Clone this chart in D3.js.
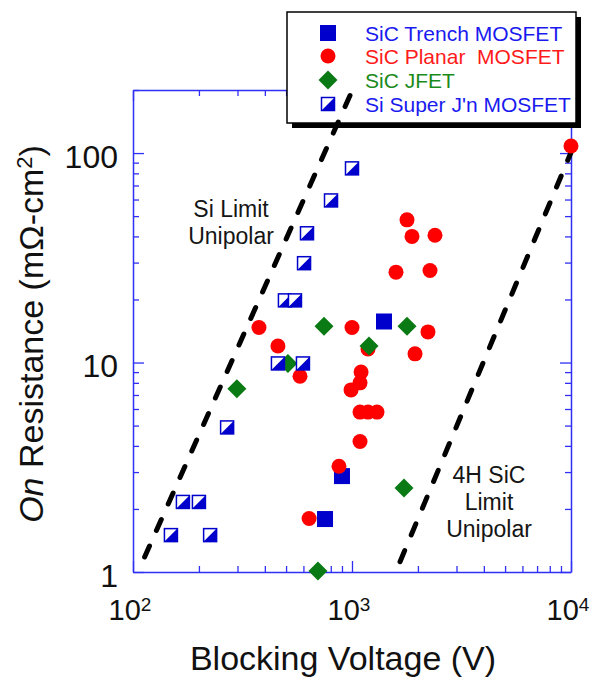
<!DOCTYPE html>
<html lang="en">
<head>
<meta charset="utf-8">
<title>On Resistance vs Blocking Voltage</title>
<script src="https://cdnjs.cloudflare.com/ajax/libs/d3/7.7.0/d3.min.js"></script>
<style>
  body { margin: 0; background: #fff; }
  text { font-family: "Liberation Sans", Arial, Helvetica, sans-serif; }
</style>
</head>
<body>
<div class="graph"></div>
<script>
// [blocking voltage (V), on resistance (mOhm-cm2)]
const sicTrench = [[1400, 15.7], [900, 2.87], [753, 1.79]];
const sicPlanar = [
  [376, 14.7], [459, 12], [579, 8.6], [1000, 14.7], [990, 7.4], [1100, 9.0],
  [1088, 8.0], [1088, 5.8], [1184, 5.8], [1301, 5.8], [1088, 4.2], [872, 3.2],
  [637, 1.8], [1783, 48], [1879, 40], [2393, 40.5], [1588, 27], [2271, 27.5],
  [2223, 14], [1940, 11], [1183, 11.6], [10000, 108]
];
const sicJfet = [[745, 14.9], [1783, 14.9], [1196, 12], [510, 9.9], [298, 7.5], [1728, 2.52], [699, 1.01]];
const siSuperJ = [
  [1000, 84.5], [802, 59.4], [623, 41.4], [604, 29.8], [494, 19.8], [549, 19.8],
  [459, 9.9], [597, 9.9], [269, 4.9], [169, 2.16], [200, 2.16], [149, 1.5], [225, 1.5]
];
// unipolar limit lines (end points)
const siLimit = [[113, 1.18], [1005, 200]];
const sicLimit = [[1657, 1.12], [10000, 100.7]];

const xTicks = [100, 200, 300, 400, 500, 600, 700, 800, 900, 1000,
  2000, 3000, 4000, 5000, 6000, 7000, 8000, 9000, 10000];
const xMajor = [100, 1000, 10000];
const xExp = ["2", "3", "4"];
const yTicks = [1, 2, 3, 4, 5, 6, 7, 8, 9, 10, 20, 30, 40, 50, 60, 70, 80, 90, 100, 200];
const yMajor = [1, 10, 100];

const legendItems = ["SiC Trench MOSFET", "SiC Planar  MOSFET", "SiC JFET", "Si Super J'n MOSFET"];

const w = 593, h = 680;
const m = {left: 133, top: 90, right: 22, bottom: 108};
const frame = "#2f2ff5";
const blue = "#0000cc", red = "#ff0000", green = "#0a7a14";

const svg = d3.select(".graph").append("svg")
  .attr("width", w).attr("height", h);

const x = d3.scaleLog().domain([100, 10000]).range([m.left, w - m.right]);
const y = d3.scaleLog().domain([1, 200]).range([h - m.bottom, m.top]);

function styleAxis(g, majors, bigLen, dir) {
  g.select(".domain").attr("stroke", frame).attr("stroke-width", 1.5);
  g.selectAll(".tick line").attr("stroke", frame).attr("stroke-width", 1.3)
    .each(function (d) {
      if (majors.includes(d)) d3.select(this).attr(dir, bigLen);
    });
}

// bottom
const gx = svg.append("g").attr("transform", "translate(0," + (h - m.bottom) + ")")
  .call(d3.axisBottom(x).tickValues(xTicks).tickSizeInner(-6).tickSizeOuter(0).tickFormat(""));
styleAxis(gx, xMajor, -11, "y2");
// top
const gt = svg.append("g").attr("transform", "translate(0," + m.top + ")")
  .call(d3.axisTop(x).tickValues(xTicks).tickSizeInner(-6).tickSizeOuter(0).tickFormat(""));
styleAxis(gt, xMajor, 11, "y2");
// left
const gy = svg.append("g").attr("transform", "translate(" + m.left + ",0)")
  .call(d3.axisLeft(y).tickValues(yTicks).tickSizeInner(-6).tickSizeOuter(0).tickPadding(15)
    .tickFormat(d => yMajor.includes(d) ? d : ""));
styleAxis(gy, yMajor, 11, "x2");
gy.selectAll(".tick text").attr("fill", "#111").attr("font-size", "32px")
  .attr("dy", "0.45em").style("font-family", "'Liberation Sans', Arial, sans-serif");
// right
const gr = svg.append("g").attr("transform", "translate(" + (w - m.right) + ",0)")
  .call(d3.axisRight(y).tickValues(yTicks).tickSizeInner(-6).tickSizeOuter(0).tickFormat(""));
styleAxis(gr, yMajor, -11, "x2");

// x tick labels 10^n
xMajor.forEach((v, i) => {
  const t = svg.append("text").attr("x", x(v) - 3).attr("y", h - m.bottom + 48)
    .attr("text-anchor", "middle").attr("fill", "#111").attr("font-size", "29px");
  t.append("tspan").text("10");
  t.append("tspan").attr("dy", -9).attr("font-size", "19px").text(xExp[i]);
});

// axis titles
svg.append("text").attr("x", 343).attr("y", 670).attr("text-anchor", "middle")
  .attr("font-size", "34px").attr("fill", "#111").text("Blocking Voltage (V)");
const yt = svg.append("text").attr("transform", "translate(43,334) rotate(-90)")
  .attr("text-anchor", "middle").attr("font-size", "34px").attr("fill", "#111");
yt.append("tspan").attr("font-style", "italic").text("On");
yt.append("tspan").text(" Resistance (m\u03A9-cm");
yt.append("tspan").attr("dy", -11).attr("font-size", "22px").text("2");
yt.append("tspan").attr("dy", 11).text(")");

// markers
function drawTrench(g, cx, cy) {
  g.append("rect").attr("x", cx - 8).attr("y", cy - 8).attr("width", 16).attr("height", 16).attr("fill", blue);
}
function drawPlanar(g, cx, cy) {
  g.append("circle").attr("cx", cx).attr("cy", cy).attr("r", 7.5).attr("fill", red);
}
function drawJfet(g, cx, cy) {
  const s = 9.5;
  g.append("path").attr("d", `M${cx},${cy - s}L${cx + s},${cy}L${cx},${cy + s}L${cx - s},${cy}Z`).attr("fill", green);
}
function drawSuperJ(g, cx, cy) {
  const s = 6.5;
  g.append("rect").attr("x", cx - s).attr("y", cy - s).attr("width", 2 * s).attr("height", 2 * s)
    .attr("fill", "#fff").attr("stroke", blue).attr("stroke-width", 1.5);
  g.append("path").attr("d", `M${cx - s},${cy + s}L${cx + s},${cy - s}L${cx + s},${cy + s}Z`).attr("fill", blue);
}

// legend
const lg = svg.append("g");
lg.append("rect").attr("x", 292).attr("y", 17).attr("width", 289).attr("height", 111).attr("fill", "#000");
lg.append("rect").attr("x", 287).attr("y", 12).attr("width", 289).attr("height", 111)
  .attr("fill", "#fff").attr("stroke", "#000").attr("stroke-width", 1.5);
const legendY = [33, 56, 80, 104];
const legendColor = ["#1a1aee", "#ff1a1a", "#1a8a1a", "#1a1aee"];
const legendDraw = [drawTrench, drawPlanar, drawJfet, drawSuperJ];
legendItems.forEach((name, i) => {
  legendDraw[i](lg, 328, legendY[i]);
  lg.append("text").attr("x", 365).attr("y", legendY[i] + 7.5)
    .attr("font-size", "21px").attr("fill", legendColor[i])
    .style("white-space", "pre").text(name);
});

// limit lines
const line = d3.line().x(d => x(d[0])).y(d => y(d[1]));
[siLimit, sicLimit].forEach(l => {
  svg.append("path").attr("d", line(l)).attr("fill", "none").attr("stroke", "#000")
    .attr("stroke-width", 5).attr("stroke-linecap", "round").attr("stroke-dasharray", "12,17");
});

// annotations
const ann = [
  {lines: ["Si Limit", "Unipolar"], cx: 231, y0: 217},
  {lines: ["4H SiC", "Limit", "Unipolar"], cx: 489, y0: 483}
];
ann.forEach(a => {
  a.lines.forEach((s, i) => {
    svg.append("text").attr("x", a.cx).attr("y", a.y0 + i * 27).attr("text-anchor", "middle")
      .attr("font-size", "23px").attr("fill", "#151515").text(s);
  });
});

// data points
const pts = svg.append("g");
sicTrench.forEach(d => drawTrench(pts, x(d[0]), y(d[1])));
sicPlanar.forEach(d => drawPlanar(pts, x(d[0]), y(d[1])));
sicJfet.forEach(d => drawJfet(pts, x(d[0]), y(d[1])));
siSuperJ.forEach(d => drawSuperJ(pts, x(d[0]), y(d[1])));
</script>
</body>
</html>
